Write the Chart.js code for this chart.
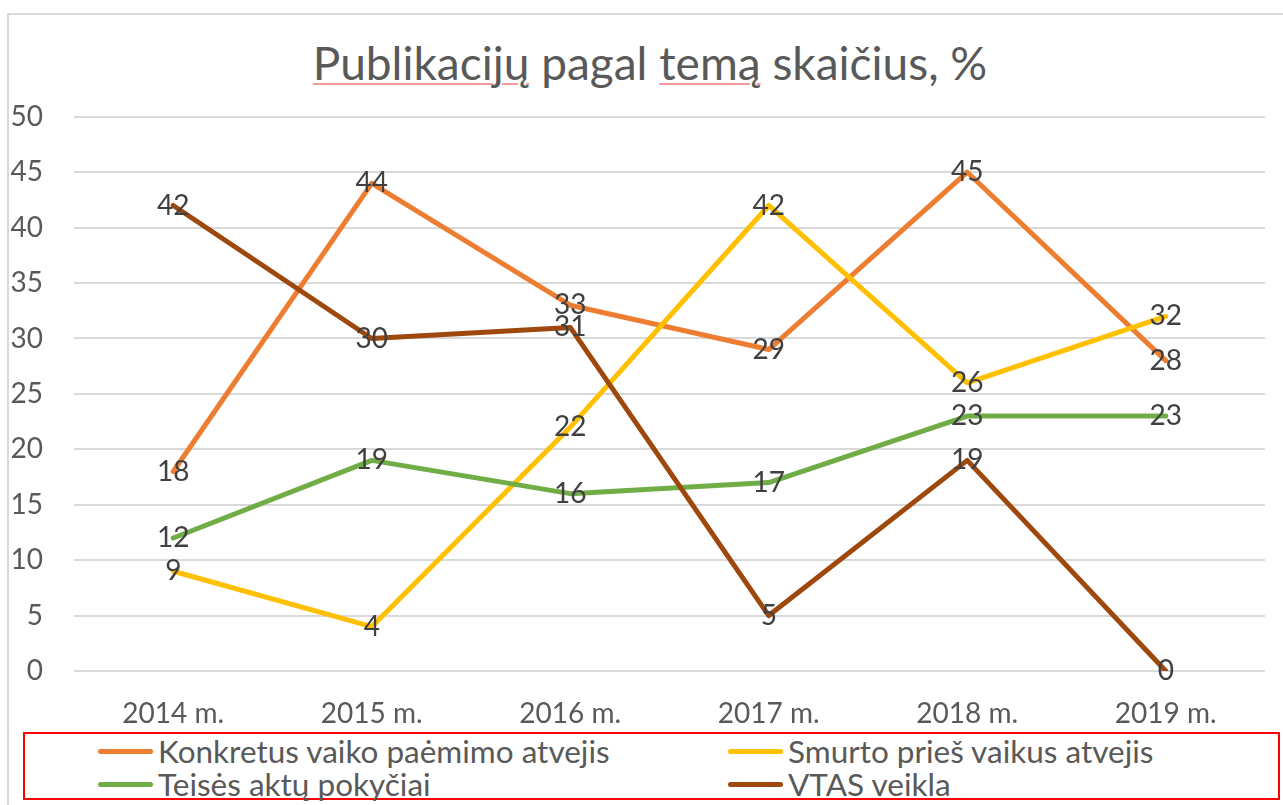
<!DOCTYPE html>
<html>
<head>
<meta charset="utf-8">
<script src="https://cdn.jsdelivr.net/npm/chart.js@4.4.0/dist/chart.umd.min.js"></script>
<style>
	body { margin: 0; background: #fff; overflow: hidden; font-family: Lato, sans-serif; }
	#frame { position: absolute; left: 7px; top: 13px; width: 1300px; height: 820px; border: 2px solid #d9d9d9; }
	#title { position: absolute; left: 0; top: 35px; width: 1300px; text-align: center; font-size: 46px; color: #595959; white-space: nowrap; }
	#title .sp { text-decoration: underline; text-decoration-color: #f59a9a; text-decoration-thickness: 1.5px; text-underline-offset: 3px; }
	#wrap { position: absolute; left: 0; top: 69px; width: 1283px; height: 661px; }
	#legend { position: absolute; left: 23px; top: 732px; width: 1253px; height: 64px; border: 2px solid #ff0000; }
	.item { position: absolute; font-size: 31.5px; color: #595959; white-space: nowrap; line-height: 34px; }
	.item .ln { position: absolute; height: 5px; border-radius: 3px; top: 15px; }
</style>
</head>
<body>
<div id="frame"></div>
<div id="title"><span class="sp">Publikacijų</span> pagal <span class="sp">temą</span> skaičius, %</div>
<div id="wrap"><canvas id="myChart"></canvas></div>
<div id="legend"></div>
<script>
// duomenys
const metai = ['2014 m.', '2015 m.', '2016 m.', '2017 m.', '2018 m.', '2019 m.'];
const konkretus = [18, 44, 33, 29, 45, 28];
const smurto = [9, 4, 22, 42, 26, 32];
const teises = [12, 19, 16, 17, 23, 23];
const vtas = [42, 30, 31, 5, 19, 0];
const pavadinimai = ['Konkretus vaiko paėmimo atvejis', 'Smurto prieš vaikus atvejis', 'Teisės aktų pokyčiai', 'VTAS veikla'];
const spalvos = ['#ED7D31', '#FFC000', '#70AD47', '#9E480E'];
const reiksmes = [konkretus, smurto, teises, vtas];

// reikšmių etiketės ant taškų
const etiketes = {
	id: 'etiketes',
	afterDatasetsDraw(chart) {
		const ctx = chart.ctx;
		ctx.save();
		ctx.font = '28px Lato';
		ctx.fillStyle = '#404040';
		ctx.textAlign = 'center';
		ctx.textBaseline = 'middle';
		chart.data.datasets.forEach((ds, i) => {
			chart.getDatasetMeta(i).data.forEach((pt, j) => {
				ctx.fillText(ds.data[j], pt.x, pt.y);
			});
		});
		ctx.restore();
	}
};

const datasets = reiksmes.map((d, i) => ({
	label: pavadinimai[i],
	data: d,
	borderColor: spalvos[i],
	backgroundColor: spalvos[i],
	borderWidth: 5,
	borderCapStyle: 'round',
	borderJoinStyle: 'round',
	pointRadius: 0,
	tension: 0,
	order: 4 - i
}));

const ctx = document.getElementById('myChart').getContext('2d');
new Chart(ctx, {
	type: 'line',
	data: { labels: metai, datasets: datasets },
	options: {
		responsive: true,
		maintainAspectRatio: false,
		animation: false,
		layout: { padding: { top: 6, right: 18, left: 0, bottom: 0 } },
		plugins: {
			legend: { display: false },
			title: { display: false },
			tooltip: { enabled: false }
		},
		scales: {
			x: {
				offset: true,
				grid: { display: false },
				border: { display: false },
				ticks: { color: '#595959', font: { family: 'Lato', size: 28 }, padding: 18, maxRotation: 0 },
				afterFit(scale) { scale.height = 59; }
			},
			y: {
				min: 0,
				max: 50,
				grid: { color: '#d9d9d9', lineWidth: 2, drawTicks: false },
				border: { display: false },
				ticks: { stepSize: 5, color: '#595959', font: { family: 'Lato', size: 28 }, padding: 31 },
				afterFit(scale) { scale.width = 74; }
			}
		}
	},
	plugins: [etiketes]
});

// legenda
const poz = [
	{ x: 73, y: 0 },
	{ x: 703, y: 0 },
	{ x: 73, y: 33 },
	{ x: 703, y: 33 }
];
const legenda = document.getElementById('legend');
pavadinimai.forEach((p, i) => {
	const el = document.createElement('div');
	el.className = 'item';
	el.style.left = poz[i].x + 'px';
	el.style.top = poz[i].y + 'px';
	el.style.paddingLeft = '60px';
	el.innerHTML = '<span class="ln" style="left:0;width:55px;background:' + spalvos[i] + '"></span>' + p;
	legenda.appendChild(el);
});
</script>
</body>
</html>
